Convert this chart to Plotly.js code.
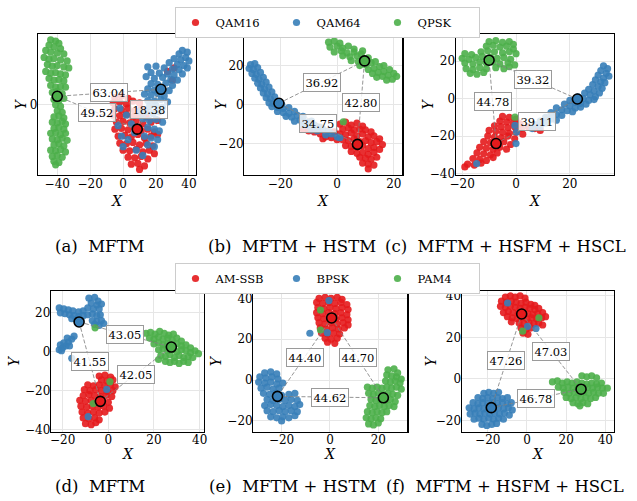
<!DOCTYPE html>
<html><head><meta charset="utf-8">
<script src="https://cdn.plot.ly/plotly-3.0.1.min.js"></script>
<style>
html,body{margin:0;padding:0;background:#fff}
#chart{width:637px;height:501px}
</style>
</head><body><div id="chart"></div>
<script>
const COLORS = ['#e41a1c', '#377eb8', '#4daf4a'];
const row1Classes = ['QAM16', 'QAM64', 'QPSK'];
const row2Classes = ['AM-SSB', 'BPSK', 'PAM4'];
const captions = ['(a)\u00a0 MFTM', '(b)\u00a0 MFTM + HSTM', '(c)\u00a0 MFTM + HSFM + HSCL',
                  '(d)\u00a0 MFTM', '(e)\u00a0 MFTM + HSTM', '(f)\u00a0 MFTM + HSFM + HSCL'];

// ---- (a) MFTM, row 1 ----
const a_QAM16 = [[-5,2],[-1,2.5],[3,1.8],[-6,0.5],[-2,0.8],[2,0.2],[6,1],[10,0.5],[-5,-1.2],[-1,-1.5],[3,-1],[7,-1.8],[11,-1.2],[-6,-3],[-2,-3.2],[2,-2.8],[6,-3.5],[10,-3],[14,-3.5],[-4,-5],[0,-4.8],[4,-5.2],[8,-4.5],[12,-5.5],[17,-5],[21,-4.5],[-5,-7],[-1,-6.8],[3,-7.2],[7,-6.5],[11,-7.5],[15,-7],[19,-7.8],[-3,-9],[1,-8.8],[5,-9.2],[9,-8.5],[13,-9.5],[17,-9],[21,-8.5],[-2,-11],[2,-11.2],[6,-10.8],[10,-11.5],[14,-11],[18,-11.8],[0,-13],[4,-13.2],[8,-12.8],[12,-13.5],[16,-13],[19,-14],[3,-15],[7,-15.2],[11,-14.8],[15,-15.5],[5,-17],[9,-16.8],[13,-17.5],[10,-18.5],[31,10.5],[30,7],[27,9.5]];
const a_QAM64 = [[36,15.5],[39,15],[34,14.5],[38,13.5],[31,13.2],[35,12.8],[40,12.5],[28,12],[33,11.5],[37,11.2],[15,10.8],[20,11],[25,10.5],[30,10.2],[34,10],[39,10.5],[17,9.2],[22,9],[27,8.8],[31,8.5],[36,8.8],[14,8],[19,7.5],[24,7.8],[29,7.2],[33,7],[17,6],[21,5.8],[26,6.2],[30,5.5],[15,4.5],[19,4.2],[23,4.6],[28,4],[13,3],[17,2.8],[21,3.2],[25,2.5],[15,1.2],[19,1],[23,1.5],[27,0.8],[16,-0.5],[20,-0.2],[24,-0.8],[14,-2],[18,-2.5],[22,-2],[12,-4],[16,-4.5],[20,-4.2],[24,-5],[15,-6.5],[19,-7],[22,-7.5],[13,-9],[17,-9.5],[21,-10],[15,-11.5],[19,-12],[8,-13],[12,-14.5],[-2,-1],[2,-3],[5,-5.5],[-3,-6],[7,-8],[3,-10],[10,-2],[0,-12],[-1,-9]];
const a_QPSK = [[-44,18.5],[-41,18.2],[-39,17.5],[-45,17],[-42,16.5],[-38,16],[-47,15.5],[-44,15],[-40,14.8],[-36,14.5],[-48,13.5],[-45,13],[-42,13.2],[-38,12.8],[-34,12.5],[-46,11.5],[-43,11],[-40,11.2],[-36,10.8],[-33,10.5],[-47,9.5],[-44,9],[-41,9.2],[-38,8.8],[-35,8.5],[-45,7.5],[-42,7],[-39,7.2],[-36,6.8],[-44,5.5],[-41,5],[-38,5.2],[-35,5],[-43,3.5],[-40,3.8],[-37,3.2],[-42,1.5],[-39,1.2],[-36,1.8],[-41,0],[-38,-0.5],[-40,-1.8],[-37,-2.2],[-42,-3.5],[-39,-3.2],[-36,-3.8],[-43,-5],[-40,-5.2],[-37,-4.8],[-35,-5.5],[-42,-6.8],[-39,-6.5],[-36,-7],[-44,-8.2],[-41,-8],[-38,-8.5],[-35,-8.2],[-43,-9.8],[-40,-10],[-37,-9.6],[-34,-10.2],[-42,-11.5],[-39,-11.2],[-36,-11.8],[-44,-13],[-41,-13.2],[-38,-12.8],[-35,-13.5],[-43,-14.8],[-40,-14.5],[-37,-15],[-42,-16.2],[-39,-16.5],[-41,-17.2]];
const a_centroids = [[8.6,-7.0],[23.0,4.4],[-40.0,2.4]];
const a_dist = ['18.38', '63.04', '49.52'];   // pairs: 0-1, 1-2, 0-2

// ---- (b) MFTM + HSTM, row 1 ----
const b_QAM16 = [[1,-10],[3,-9],[5,-10.5],[7,-9.5],[9,-11],[2,-12.5],[4,-12],[6,-13],[8,-12.5],[10,-13],[12,-14],[1,-15],[3,-15.5],[5,-14.5],[7,-16],[9,-15],[11,-16.5],[13,-16],[15,-17.5],[2,-18],[4,-18.5],[6,-17.5],[8,-19],[10,-18.5],[12,-19.5],[14,-19],[16,-20.5],[3,-21],[5,-21.5],[7,-22],[9,-21],[11,-22.5],[13,-22],[15,-23],[5,-24],[7,-25],[9,-24.5],[11,-25.5],[13,-24.5],[8,-27],[10,-27.5],[12,-28],[14,-27],[9,-30],[11,-30.5],[13,-31],[11,-33],[-12,-12.5],[-10,-13.5],[-8,-14],[-6,-15],[-4,-16.5],[-2,-17],[0,-18],[-1,-14],[-5,-17.5]];
const b_QAM64 = [[-30.5,20.5],[-29,21],[-31,18.5],[-29.5,18],[-28,19],[-30,16],[-28.5,15.5],[-27,16.5],[-29,13.5],[-27.5,13],[-26,14],[-28,11],[-26.5,10.5],[-25,11.5],[-27,8.5],[-25.5,8],[-24,9],[-26,6],[-24.5,5.5],[-23,6.5],[-25,3.5],[-23.5,3],[-22,4],[-24,1],[-22.5,0.5],[-21,1.5],[-19.5,0],[-23,-1],[-21,-1.5],[-19,-2],[-17,-1.5],[-21,-3.5],[-19,-4],[-17,-4.5],[-15,-3.5],[-18,-6],[-16,-6.5],[-14,-5.5],[-12,-6],[-15,-8.5],[-13,-8],[-11,-9],[-9,-8.5],[-12,-10.5],[-10,-11],[-8,-10.5],[-6,-11.5],[-9,-13],[-7,-13.5],[-5,-12.5],[-3,-13.5],[-4,-15.5],[-2,-15],[0,-16.5],[1,-17]];
const b_QPSK = [[-3,32],[-1,32.5],[1,31.5],[-2.5,29.5],[0,30],[2,29],[4,30],[-1,27],[1.5,27.5],[3.5,26.5],[6,27],[2,25],[4.5,24.5],[7,25],[8.5,26],[5,22.5],[7.5,22],[9.5,23.5],[11,24],[8,20],[10,20.5],[12,21.5],[13.5,22],[11,18],[13,18.5],[15,19.5],[16.5,20],[12.5,16],[14.5,16.5],[16.5,17],[18.5,18],[14,14],[16,14.5],[18,15],[20,16],[17.5,12.5],[19.5,13],[21,14.5],[6,28.5],[9,27.5],[2.2,-8.8]];
const b_centroids = [[7.2,-20.4],[-20.5,0.7],[9.7,22.4]];
const b_dist = ['34.75', '36.92', '42.80'];

// ---- (c) MFTM + HSFM + HSCL, row 1 ----
const c_QAM16 = [[-5,-9.5],[-2.5,-10],[0,-11],[-6,-12],[-3.5,-12.5],[-1,-13],[1.5,-13.5],[-8,-14.5],[-5.5,-15],[-3,-15.5],[-0.5,-15],[2,-16],[4.5,-15],[7,-16],[9,-17],[-10,-17],[-7.5,-17.5],[-5,-18],[-2.5,-18.5],[0,-18],[2.5,-19],[-10.5,-20],[-8,-20.5],[-5.5,-21],[-3,-20],[-0.5,-21.5],[-12,-23],[-9.5,-23.5],[-7,-24],[-4.5,-23],[-2,-24.5],[-13.5,-26],[-11,-26.5],[-8.5,-27],[-6,-26],[-3.5,-27],[-14.5,-29],[-12,-29.5],[-9.5,-30],[-7,-29],[-16,-32],[-13.5,-32.5],[-11,-33],[-8.5,-31.5],[-18,-35],[-15.5,-35.5],[-13,-34.5],[-19,-36.5]];
const c_QAM64 = [[32.5,17.5],[34,16],[31.5,15],[33.5,13.5],[30.5,12.5],[32.5,11],[34.5,12],[29.5,10],[31.5,9],[33,8.5],[28.5,7.5],[30.5,6.5],[32,5.5],[27,5],[29,4],[31,3],[25.5,3],[27.5,2],[29.5,1],[23,1],[25,0],[27,-1],[29,-0.5],[20,-1],[22,-2],[24,-2.5],[26,-3],[18,-3],[20,-4],[22,-5],[24,-4.5],[15,-5],[17,-6],[19,-6.5],[21,-7],[13,-7.5],[15,-8.5],[17,-9],[11,-10],[13,-11],[15,-11.5],[9,-12],[11,-13],[7,-14],[9,-15],[6,-16],[-0.4,-14.3],[0.2,-17.9],[0,-24],[-14.6,-34.7]];
const c_QPSK = [[-10,30.5],[-7.5,31],[-5,30],[-2.5,30.5],[-1,29],[-11,28],[-8.5,28.5],[-6,27.5],[-3.5,28],[-1,26.5],[-19,24],[-16.5,23.5],[-13,25],[-10.5,25.5],[-8,25],[-5,24.5],[-2.5,25],[0,24],[-20,21.5],[-17.5,21],[-15,22],[-12.5,22.5],[-9.5,22],[-7,21.5],[-4.5,22],[-2,21],[-19,19],[-16,18.5],[-13.5,19.5],[-11,19],[-8.5,19.5],[-6,18.5],[-3,19],[-0.5,18],[-18.5,16],[-16,15.5],[-13.5,16.5],[-11,16],[-7.5,16.5],[-4.5,16],[-2.5,17],[-17,13.5],[-14.5,13],[-12,14],[-0.4,-9.9]];
const c_centroids = [[-7.4,-24.0],[22.8,-0.2],[-10.0,20.5]];
const c_dist = ['39.11', '39.32', '44.78'];

// ---- (d) MFTM, row 2 ----
const d_AMSSB = [[-4,-12.5],[-1.5,-12],[1,-13],[-3,-14.5],[-0.5,-15],[2,-14.5],[-9,-17],[-6.5,-17.5],[-4,-17],[-1.5,-17.5],[1,-17],[3,-18],[-10.5,-19.5],[-8,-20],[-5.5,-19.5],[-3,-20],[-0.5,-20.5],[2,-20],[-11,-22.5],[-8.5,-22],[-6,-22.5],[-3.5,-23],[-1,-22.5],[1.5,-23],[-12.5,-25],[-10,-25.5],[-7.5,-25],[-5,-26],[-2.5,-25.5],[0,-26],[-12,-28],[-9.5,-28.5],[-7,-28],[-4.5,-28.5],[-2,-28],[0.5,-29],[-11.5,-31],[-9,-31.5],[-6.5,-31],[-4,-31.5],[-1.5,-31],[-11,-34],[-8.5,-34.5],[-6,-34],[-4,-35],[-10,-37],[-7.5,-37.5],[-5.5,-36.5]];
const d_BPSK = [[-21.5,22.5],[-19.5,22],[-17.5,21.5],[-15.5,21],[-13,20.5],[-11,21],[-21,20],[-19,19.5],[-17,19],[-15,18.5],[-13,18],[-11,18.5],[-9,19],[-7,19.5],[-5,18.5],[-3.5,19],[-14,16.5],[-12,16],[-16,17],[-8.5,27.5],[-6,28],[-4.5,26],[-7.5,25],[-5,24],[-3,24.5],[-9,22.5],[-6.5,22],[-4,22],[-7,16],[-5,15.5],[-3,16],[-6,14],[-4,13.5],[-2,14.5],[-21.5,1],[-20,2],[-18.5,3],[-21,3.5],[-19.5,4.5],[-17.5,5],[-16,6.5],[-18,7],[-15,8],[-20.5,0.5],[-17,3],[-16,-3.4],[-0.7,-19.4],[-8.8,-33.4]];
const d_PAM4 = [[16.5,9.5],[18.5,10],[20.5,9],[22.5,10.5],[24.5,9.5],[26.5,8.5],[28.5,9],[18,7],[20,6.5],[22,7.5],[24,6.5],[26,7],[28,6],[30,7],[32,5.5],[20,4],[22,4.5],[24,3.5],[26,4],[28,3],[30,4],[32,3],[34,3.5],[36,2],[22,1],[24,1.5],[26,0.5],[28,1],[30,0],[32,1],[34,0.5],[36,-0.5],[38,0.5],[39.5,-1],[23,-2],[25,-2.5],[27,-1.5],[29,-3],[31,-2],[33,-3],[35,-2.5],[37,-3],[25,-5],[27,-5.5],[29,-5],[31,-6],[33,-5],[35,-5.5],[22,-4],[-5.8,12.3],[0.7,-15.4],[-6.6,-26.6]];
const d_centroids = [[-3.5,-25.5],[-12.8,15.3],[27.6,2.4]];
const d_dist = ['41.55', '43.05', '42.05'];

// ---- (e) MFTM + HSTM, row 2 ----
const e_AMSSB = [[-4.5,40],[-2,40.5],[0.5,40],[3,40.5],[5,39.5],[-5.5,38],[-3,37.5],[-0.5,38],[2,37.5],[4.5,38],[7,37],[-5,35.5],[-2.5,35],[0,35.5],[2.5,35],[5,35.5],[7.5,34.5],[-5.5,33],[-3,32.5],[-0.5,33],[2,32.5],[4.5,33],[7,32],[-5,30.5],[-2.5,30],[0,30.5],[2.5,30],[5,30.5],[7.5,29.5],[-4.5,28],[-2,27.5],[0.5,28],[3,27.5],[5.5,28],[7.5,27],[-4,25.5],[-1.5,25],[1,25.5],[3.5,25],[6,25.5],[-3.5,23],[-1,22.5],[1.5,23],[4,22.5],[-2,20.5],[0.5,20],[3,20.5],[-1,18.5],[2,18]];
const e_BPSK = [[-27,3.5],[-24.5,4],[-22,3],[-29,1.5],[-26.5,1],[-24,1.5],[-21.5,0.5],[-29.5,-1],[-27,-1.5],[-24.5,-1],[-22,-2],[-19.5,-1.5],[-28.5,-4],[-26,-3.5],[-23.5,-4.5],[-21,-4],[-27.5,-6.5],[-25,-7],[-22.5,-6.5],[-20,-7.5],[-17,-7],[-14.5,-6.5],[-26,-9.5],[-23.5,-10],[-21,-9.5],[-18.5,-10],[-16,-9.5],[-13.5,-10],[-27,-12.5],[-24.5,-12],[-22,-12.5],[-19.5,-13],[-17,-12.5],[-14.5,-13],[-12.5,-12],[-26,-15],[-23.5,-15.5],[-21,-15],[-18.5,-15.5],[-16,-15],[-13.5,-15.5],[-24.5,-18],[-22,-18.5],[-19.5,-18],[-17,-18.5],[-14.5,-17.5],[-20,-20],[-0.4,38.9],[-8.3,22.9],[-1.1,23.2]];
const e_PAM4 = [[24,5],[26.5,5.5],[28,3.5],[23.5,2.5],[25.5,2],[27.5,1.5],[29.5,0.5],[23,-0.5],[25,-1],[27,-0.5],[29,-1.5],[15.5,-3.5],[17.5,-4],[19.5,-3.5],[21.5,-4],[23.5,-3.5],[25.5,-4],[27.5,-3.5],[29.5,-4.5],[16,-6.5],[18,-7],[20,-6.5],[22,-7],[24,-6.5],[26,-7],[28,-7.5],[17,-9.5],[19,-10],[21,-9.5],[23,-10],[25,-9.5],[27,-10.5],[16.5,-12.5],[18.5,-13],[20.5,-12.5],[22.5,-13],[24.5,-12.5],[26.5,-13],[15.5,-15.5],[17.5,-16],[19.5,-15.5],[21.5,-16],[23.5,-15.5],[15,-18.5],[17,-19],[19,-18.5],[21,-19],[16,-21.5],[18,-22],[20,-21],[-3.9,34.3],[-3.9,24.5]];
const e_centroids = [[0.7,30.4],[-21.7,-8.0],[22.1,-8.7]];
const e_dist = ['44.40', '44.62', '44.70'];

// ---- (f) MFTM + HSFM + HSCL, row 2 ----
const f_AMSSB = [[-11,39.5],[-8.5,40],[-6,39.5],[-3.5,40],[-1,39],[-13,37.5],[-10.5,37],[-8,37.5],[-5.5,37],[-3,36.5],[-0.5,37],[2,36],[4,35.5],[-13.5,35],[-11,34.5],[-8.5,35],[-6,34.5],[-3.5,34],[-1,34.5],[1.5,34],[4,33.5],[6,34],[-12,32],[-9.5,32.5],[-7,32],[-4.5,31.5],[-2,32],[0.5,31.5],[3,31],[5.5,31.5],[8,32],[-10,30],[-7.5,29.5],[-5,29],[-2.5,29.5],[0,29],[2.5,29.5],[5,29],[7.5,29.5],[9.5,30],[-4,27],[-1.5,26.5],[1,27],[3.5,26.5],[6,27],[8,26],[-3,24.5],[-0.5,24],[2,24.5],[-2,22],[0.5,21.5],[-8,27.5]];
const f_BPSK = [[-22,-7],[-19.5,-6.5],[-17,-7],[-14.5,-6.5],[-25,-9],[-22.5,-9.5],[-20,-9],[-17.5,-9.5],[-15,-9],[-12.5,-9.5],[-10,-9],[-27.5,-11.5],[-25,-12],[-22.5,-11.5],[-20,-12],[-17.5,-11.5],[-15,-12],[-12.5,-11.5],[-10,-12],[-8,-11.5],[-29.5,-14],[-27,-14.5],[-24.5,-14],[-22,-14.5],[-19.5,-14],[-17,-14.5],[-14.5,-14],[-12,-14.5],[-9.5,-14],[-7.5,-15],[-29,-17],[-26.5,-16.5],[-24,-17],[-21.5,-16.5],[-19,-17],[-16.5,-16.5],[-14,-17],[-11.5,-16.5],[-9,-17.5],[-27,-19.5],[-24.5,-19],[-22,-19.5],[-19.5,-19],[-17,-19.5],[-14.5,-19],[-12,-19.5],[-23,-22],[-20.5,-22.5],[-18,-22],[-15.5,-21.5],[-9.9,36.6],[0.3,25.3],[4.6,24.3]];
const f_PAM4 = [[28,1.5],[30.5,1],[33,1.5],[35.5,0.5],[13,-1.5],[15.5,-1],[18,-2],[20.5,-1.5],[23,-2],[25.5,-1.5],[28,-2],[30.5,-2.5],[33,-2],[35.5,-2.5],[38,-2],[16,-4],[18.5,-4.5],[21,-4],[23.5,-4.5],[26,-4],[28.5,-4.5],[31,-4],[33.5,-4.5],[36,-4],[38.5,-4.5],[41,-4.5],[19,-6.5],[21.5,-7],[24,-6.5],[26.5,-7],[29,-6.5],[31.5,-7],[34,-6.5],[36.5,-7],[39,-7],[20,-9],[22.5,-9.5],[25,-9],[27.5,-9.5],[30,-9],[32.5,-9.5],[35,-9],[23.5,-11.5],[26,-12],[28.5,-11.5],[31,-12],[27,-13],[6.1,29.5],[-2.2,23]];
const f_centroids = [[-2.7,31.3],[-18.2,-13.9],[27.6,-5.0]];
const f_dist = ['47.26', '46.78', '47.03'];

// axis ranges and ticks
const xRanges = [[-51.7,44.3],[-32.7,23.0],[-22.4,36.4],[-25.1,41.9],[-31.7,32.0],[-33.3,44.4]];
const yRanges = [[-20.1,20.2],[-36.1,36.2],[-40.8,34.5],[-41.1,31.2],[-25.3,43.6],[-25.5,42.4]];
const xTicks = [[-40,-20,0,20,40],[-20,0,20],[-20,0,20],[-20,0,20,40],[-20,0,20],[-20,0,20,40]];
const yTicks = [[0],[-20,0,20],[-40,-20,0,20],[-40,-20,0,20],[-20,0,20,40],[-20,0,20,40]];

// ---- layout geometry (pixels in a 637 x 501 page) ----
const W = 637, H = 501;
const boxes = [[38,196,34,175],[244.3,402.3,34,175],[455.7,614,34,175],
               [51,204,291,431.7],[253.3,407.3,291,431.7],[461.7,614,291,431.7]];
const yTitleX = [21, 221, 428, 14, 216, 431];
const xTitleY = [201, 201, 201, 454, 454, 454];
const captionX = [100, 292, 505, 100, 292, 505];
const captionY = [246, 246, 246, 486, 486, 486];

const panels = [
  {pts:[a_QAM16,a_QAM64,a_QPSK], c:a_centroids, d:a_dist, names:row1Classes, leg:'legend'},
  {pts:[b_QAM16,b_QAM64,b_QPSK], c:b_centroids, d:b_dist, names:row1Classes, leg:'legend'},
  {pts:[c_QAM16,c_QAM64,c_QPSK], c:c_centroids, d:c_dist, names:row1Classes, leg:'legend'},
  {pts:[d_AMSSB,d_BPSK,d_PAM4], c:d_centroids, d:d_dist, names:row2Classes, leg:'legend2'},
  {pts:[e_AMSSB,e_BPSK,e_PAM4], c:e_centroids, d:e_dist, names:row2Classes, leg:'legend2'},
  {pts:[f_AMSSB,f_BPSK,f_PAM4], c:f_centroids, d:f_dist, names:row2Classes, leg:'legend2'}
];

const FONT = 'DejaVu Serif';
const traces = [];
const annotations = [];
const legBase = {orientation:'h', xanchor:'center', yanchor:'top',
  bordercolor:'#cccccc', borderwidth:1, bgcolor:'#fff', font:{family:FONT, size:11.5, color:'#000'},
  entrywidth: 56, entrywidthmode:'pixels', itemsizing:'trace', itemwidth:30};
const layout = {
  width: W, height: H, margin: {l:0, r:0, t:0, b:0},
  paper_bgcolor: '#fff', plot_bgcolor: '#fff',
  font: {family: FONT, size: 12, color: '#000'},
  showlegend: true,
  legend: Object.assign({}, legBase, {x: 327/W, y: 1 - 7/H}),
  legend2: Object.assign({}, legBase, {x: 327/W, y: 1 - 263/H}),
  annotations: annotations
};

const pairs = [[0,1],[1,2],[0,2]];
panels.forEach((p, i) => {
  const k = i === 0 ? '' : String(i + 1);
  const xa = 'x' + k, ya = 'y' + k;
  const [l, r, t, b] = boxes[i];
  const axBase = {showline:true, mirror:true, linecolor:'#000', linewidth:1.2,
    ticks:'', showgrid:true, gridcolor:'#e6e6e6', gridwidth:1, zeroline:false,
    tickfont:{family:FONT, size:12, color:'#000'}, tickmode:'array', fixedrange:true,
    ticklabelstandoff:-3};
  layout['xaxis' + k] = Object.assign({}, axBase, {domain:[l/W, r/W], range:xRanges[i],
    tickvals:xTicks[i], anchor: ya});
  layout['yaxis' + k] = Object.assign({}, axBase, {domain:[1 - b/H, 1 - t/H], range:yRanges[i],
    tickvals:yTicks[i], anchor: xa});

  // clusters
  p.pts.forEach((arr, j) => {
    traces.push({type:'scatter', mode:'markers', xaxis:xa, yaxis:ya,
      x: arr.map(q => q[0]), y: arr.map(q => q[1]), name: p.names[j],
      legend: p.leg, showlegend: (i === 0 || i === 3),
      marker:{color: COLORS[j], size:7.2, opacity:0.9, line:{width:0}}});
  });
  // centroid links
  const lx = [], ly = [];
  pairs.forEach(([u, v]) => { lx.push(p.c[u][0], p.c[v][0], null); ly.push(p.c[u][1], p.c[v][1], null); });
  traces.push({type:'scatter', mode:'lines', xaxis:xa, yaxis:ya, x:lx, y:ly, showlegend:false,
    line:{color:'rgba(130,130,130,0.85)', width:1, dash:'4px,2px'}});
  // centroids
  traces.push({type:'scatter', mode:'markers', xaxis:xa, yaxis:ya, showlegend:false,
    x: p.c.map(q => q[0]), y: p.c.map(q => q[1]),
    marker:{color: COLORS, size:10, line:{color:'#000', width:1.6}}});
  // distance labels at the midpoints
  pairs.forEach(([u, v], m) => {
    annotations.push({xref:xa, yref:ya, x:(p.c[u][0] + p.c[v][0]) / 2, y:(p.c[u][1] + p.c[v][1]) / 2,
      text:p.d[m], showarrow:false, font:{family:FONT, size:11.5, color:'#000'},
      bgcolor:'rgba(255,255,255,0.8)', bordercolor:'#9a9a9a', borderwidth:1, borderpad:1.5});
  });
  // axis titles
  annotations.push({xref:'paper', yref:'paper', x:(l + r) / 2 / W, y:1 - xTitleY[i] / H,
    text:'<i>X</i>', showarrow:false, font:{family:FONT, size:14}, xanchor:'center', yanchor:'middle'});
  annotations.push({xref:'paper', yref:'paper', x:yTitleX[i] / W, y:1 - (t + b) / 2 / H,
    text:'<i>Y</i>', showarrow:false, textangle:-90, font:{family:FONT, size:14}, xanchor:'center', yanchor:'middle'});
  // caption
  annotations.push({xref:'paper', yref:'paper', x:captionX[i] / W, y:1 - captionY[i] / H,
    text:captions[i], showarrow:false, font:{family:FONT, size:16.5}, xanchor:'center', yanchor:'middle'});
});

Plotly.newPlot('chart', traces, layout, {staticPlot:true, displayModeBar:false});
</script>
</body></html>
